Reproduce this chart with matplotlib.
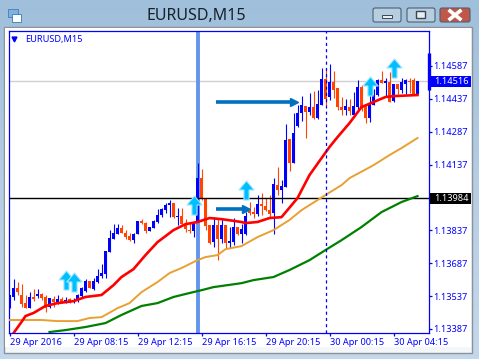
import numpy as np
import matplotlib
matplotlib.use('Agg')
import matplotlib.pyplot as plt
from matplotlib.patches import Rectangle, FancyBboxPatch
from matplotlib.path import Path

plt.rcParams['font.family'] = ['Noto Sans', 'DejaVu Sans']

# candles, prices in points (1e-5)
opens = [113487,113533,113574,113542,113505,113482,113533,113537,113546,113533,
         113487,113523,113510,113523,113510,113523,113514,113519,113537,113560,
         113606,113569,113601,113628,113637,113738,113797,113820,113847,113824,
         113811,113792,113820,113879,113870,113834,113847,113875,113906,113929,
         113952,113961,113897,113902,113865,113838,113834,113875,114075,113979,
         113861,113783,113861,113797,113861,113779,113783,113852,113820,113820,
         113925,113920,113911,113957,113948,113929,113916,114043,114020,114034,
         114253,114144,114312,114372,114404,114376,114399,114349,114408,114527,
         114445,114513,114486,114399,114385,114399,114362,114399,114490,114408,
         114349,114408,114454,114522,114508,114513,114426,114504,114476,114504,
         114518,114522,114458]
closes = [113542,113574,113555,113501,113482,113533,113523,113546,113528,113482,
          113528,113510,113523,113510,113519,113514,113519,113542,113574,113606,
          113574,113606,113628,113642,113742,113802,113824,113847,113824,113806,
          113792,113820,113879,113870,113834,113852,113879,113906,113934,113952,
          113961,113897,113902,113865,113843,113834,113875,114075,113979,113856,
          113779,113861,113797,113861,113779,113788,113852,113820,113843,113902,
          113916,113911,113957,113948,113929,113911,114048,114020,114039,114248,
          114144,114280,114372,114408,114376,114399,114349,114413,114527,114435,
          114513,114476,114399,114385,114404,114381,114404,114490,114399,114349,
          114408,114454,114522,114508,114518,114422,114504,114481,114513,114522,
          114513,114458,114518]
highs = [113542,113615,113601,113592,113542,113555,113569,113569,113551,113542,
         113528,113537,113542,113533,113533,113528,113528,113546,113578,113615,
         113606,113619,113660,113683,113742,113838,113865,113865,113861,113838,
         113824,113824,113879,113888,113875,113852,113884,113934,113938,113961,
         113975,113961,113938,113938,113888,113875,113875,114144,114116,113979,
         113861,113897,113893,113893,113861,113852,113893,113852,113865,113920,
         113966,113943,113998,114007,113984,113998,114075,114125,114066,114321,
         114253,114372,114408,114449,114404,114463,114472,114476,114577,114572,
         114595,114563,114486,114445,114435,114435,114467,114522,114499,114408,
         114454,114481,114527,114563,114531,114559,114504,114504,114531,114527,
         114531,114531,114518]
lows = [113482,113519,113542,113487,113482,113482,113514,113528,113519,113464,
        113482,113487,113501,113505,113505,113505,113505,113510,113533,113555,
        113574,113564,113596,113619,113619,113738,113797,113820,113824,113797,
        113788,113779,113820,113865,113824,113834,113847,113870,113897,113916,
        113897,113893,113861,113865,113829,113824,113806,113875,113975,113838,
        113774,113761,113701,113779,113756,113756,113770,113815,113779,113815,
        113906,113893,113902,113906,113925,113893,113820,113998,113961,114034,
        114107,114144,114308,114335,114258,114362,114344,114344,114408,114408,
        114431,114440,114385,114362,114362,114362,114353,114385,114381,114326,
        114331,114408,114449,114508,114445,114422,114422,114458,114463,114458,
        114463,114454,114458]

# moving averages, read at these bars
red_idx = [1,3,4,6,9,12,16,19,23,26,28,31,34,37,41,44,47,50,53,58,59,62,65,68,72,75,78,80,82,85,88,91,94,96,102]
red_val = [113368,113419,113446,113460,113492,113505,113514,113533,113542,113587,113624,113660,113724,113783,113838,
           113865,113875,113893,113888,113875,113870,113875,113893,113897,113984,114089,114166,114217,114262,114326,
           114399,114422,114445,114449,114454]
orange_idx = [0,5,8,12,17,20,23,27,30,33,37,40,43,47,49,52,54,58,62,66,70,73,79,83,85,91,95,98,102]
orange_val = [113428,113428,113428,113423,113423,113437,113441,113482,113505,113555,113601,113642,113665,113701,113715,
              113724,113751,113765,113806,113838,113884,113929,113998,114043,114075,114134,114180,114212,114258]
green_idx = [10,14,19,24,28,33,37,41,45,48,51,58,61,66,70,75,79,83,88,93,98,102]
green_val = [113373,113382,113396,113414,113451,113492,113505,113533,113551,113564,113578,113596,113610,113624,113656,
             113701,113747,113792,113852,113920,113966,113993]

# objects on the chart
up_arrow_idx = [14,16,46,59,90,96]
up_arrow_val = [113610,113601,113952,114020,114495,114577]
right_arrows = [(51.5,72,114424),(51.5,60,113934)]
ask_level = 114516
bid_level = 113984
vline_idx = 47
dash_idx = 79
scale_bar = (114647,114478)

y_ticks = [114587,114437,114287,114137,113837,113687,113537,113387]
x_ticks = [0,16,32,48,64,80,96]
x_labels = ['29 Apr 2016','29 Apr 08:15','29 Apr 12:15','29 Apr 16:15','29 Apr 20:15','30 Apr 00:15','30 Apr 04:15']

BLUE = '#0000ff'
DOWN = '#ff4500'
W, H = 479, 359

fig = plt.figure(figsize=(W/100, H/100), dpi=100)

# window frame
bg = fig.add_axes([0,0,1,1])
bg.set_xlim(0,W)
bg.set_ylim(H,0)
bg.axis('off')
grad = np.linspace(0,1,H).reshape(-1,1)
bg.imshow(grad, extent=[0,W,H,0], aspect='auto', cmap=matplotlib.colors.LinearSegmentedColormap.from_list('w',['#9fbfdb','#b5cde5','#c3d8ec']))
bg.add_patch(Rectangle((4,27),468,326,fc='#f4f7fa',ec='#8c9298',lw=1))
bg.add_patch(Rectangle((5,28),466,319,fc='white',ec='none'))
bg.text(196.5,16,'EURUSD,M15',ha='center',va='center',fontsize=11.5,color='#16212c')
bg.add_patch(Rectangle((8,9),10,8,fc='#7fb2de',ec='#4a86bd',lw=0.7))
bg.add_patch(Rectangle((12,14),9,8,fc='white',ec='#4a86bd',lw=0.7))
for x0,x1,c in [(372,402,'#b7cde0'),(406,436,'#b7cde0'),(439,471,'#c0584a')]:
    bg.add_patch(FancyBboxPatch((x0+1,8),x1-x0-2,14,boxstyle='round,pad=0,rounding_size=2',fc=c,ec='#4f5f6f',lw=0.8))
bg.add_patch(Rectangle((382,15),10,3,fc='#e8eef3',ec='#3a4652',lw=0.7))
bg.add_patch(Rectangle((416,11),9,7,fc='#e8eef3',ec='#3a4652',lw=1))
bg.plot([450,460],[11,19],color='white',lw=2.6)
bg.plot([450,460],[19,11],color='white',lw=2.6)

# chart box, pixels 8.5..428.5 and 31..332.5
ax = fig.add_axes([8.5/W, 1-332.5/H, 420/W, 301.5/H])
ax.set_xlim(-0.25,104.75)
ax.set_ylim(1.13371,1.14746)
for s in ax.spines.values():
    s.set_color(BLUE)
    s.set_linewidth(0.9)

def pr(v):
    return np.array(v)/1e5

x = np.arange(len(opens))
o, c, h, l = pr(opens), pr(closes), pr(highs), pr(lows)
cols = [BLUE if c[i] >= o[i] else DOWN for i in x]

ax.axhline(ask_level/1e5,color='#d0d0d0',lw=1,zorder=1)
ax.axvline(vline_idx,color='#6495ed',lw=2.8,zorder=1)
ax.vlines(x,l,h,colors=cols,lw=0.8,zorder=2)
ax.bar(x,np.maximum(np.abs(c-o),0.00003),bottom=np.minimum(o,c),width=0.75,color=cols,zorder=3)
ax.axhline(bid_level/1e5,color='black',lw=1,zorder=4)
ax.plot(orange_idx,pr(orange_val),color='#e8a033',lw=1.4,zorder=5)
ax.plot(green_idx,pr(green_val),color='#008000',lw=1.6,zorder=5)
ax.plot(red_idx,pr(red_val),color='#ff0000',lw=1.9,zorder=6)
ax.axvline(dash_idx,color=BLUE,lw=0.9,ls=(0,(2.5,2.5)),zorder=7)

# arrow symbols
up = Path([(-0.27,-1),(0.27,-1),(0.27,0.05),(0.8,0.05),(0,1),(-0.8,0.05),(-0.27,0.05),(-0.27,-1)],closed=True)
ax.scatter(up_arrow_idx,pr(up_arrow_val),marker=up,s=190,color='#00bfff',edgecolors='#a8e6ff',linewidths=0.8,zorder=8)
for x0,x1,v in right_arrows:
    ax.plot([x0,x1-1],[v/1e5,v/1e5],color='#0070c0',lw=2.6,solid_capstyle='butt',zorder=8)
    ax.plot([x1-0.8],[v/1e5],marker='>',ms=6,color='#0070c0',mec='#0070c0',zorder=8)

ax.yaxis.tick_right()
ax.set_yticks(pr(y_ticks))
ax.set_yticklabels(['%.5f' % (t/1e5) for t in y_ticks])
ax.tick_params(axis='y',colors=BLUE,length=2.5,width=0.9,pad=1.0,labelsize=6.6)
ax.set_xticks(x_ticks)
ax.set_xticklabels(x_labels,ha='left')
ax.tick_params(axis='x',colors=BLUE,length=2.5,width=0.9,pad=1.5,labelsize=6.6)

# current price labels
tr = ax.get_yaxis_transform()
ax.add_patch(Rectangle((1.0,(ask_level-24)/1e5),0.1012,48/1e5,transform=tr,fc=BLUE,ec='none',clip_on=False,zorder=9))
ax.add_patch(Rectangle((1.004,(bid_level-25)/1e5),0.0972,50/1e5,transform=tr,fc='black',ec='none',clip_on=False,zorder=9))
ax.text(1.0131,ask_level/1e5,'%.5f' % (ask_level/1e5),transform=tr,ha='left',va='center',fontsize=6.6,color='white',clip_on=False,zorder=10)
ax.text(1.0131,bid_level/1e5,'%.5f' % (bid_level/1e5),transform=tr,ha='left',va='center',fontsize=6.6,color='white',clip_on=False,zorder=10)
ax.plot([104.75,104.75],pr(scale_bar),color=BLUE,lw=2.4,solid_capstyle='butt',clip_on=False,zorder=9)

# symbol caption
ax.plot([0.014],[0.973],marker='v',ms=3.5,color=BLUE,mec=BLUE,transform=ax.transAxes)
ax.text(0.04,0.973,'EURUSD,M15',transform=ax.transAxes,ha='left',va='center',fontsize=6.6,color=BLUE)

fig.savefig('out.png',dpi=100)
